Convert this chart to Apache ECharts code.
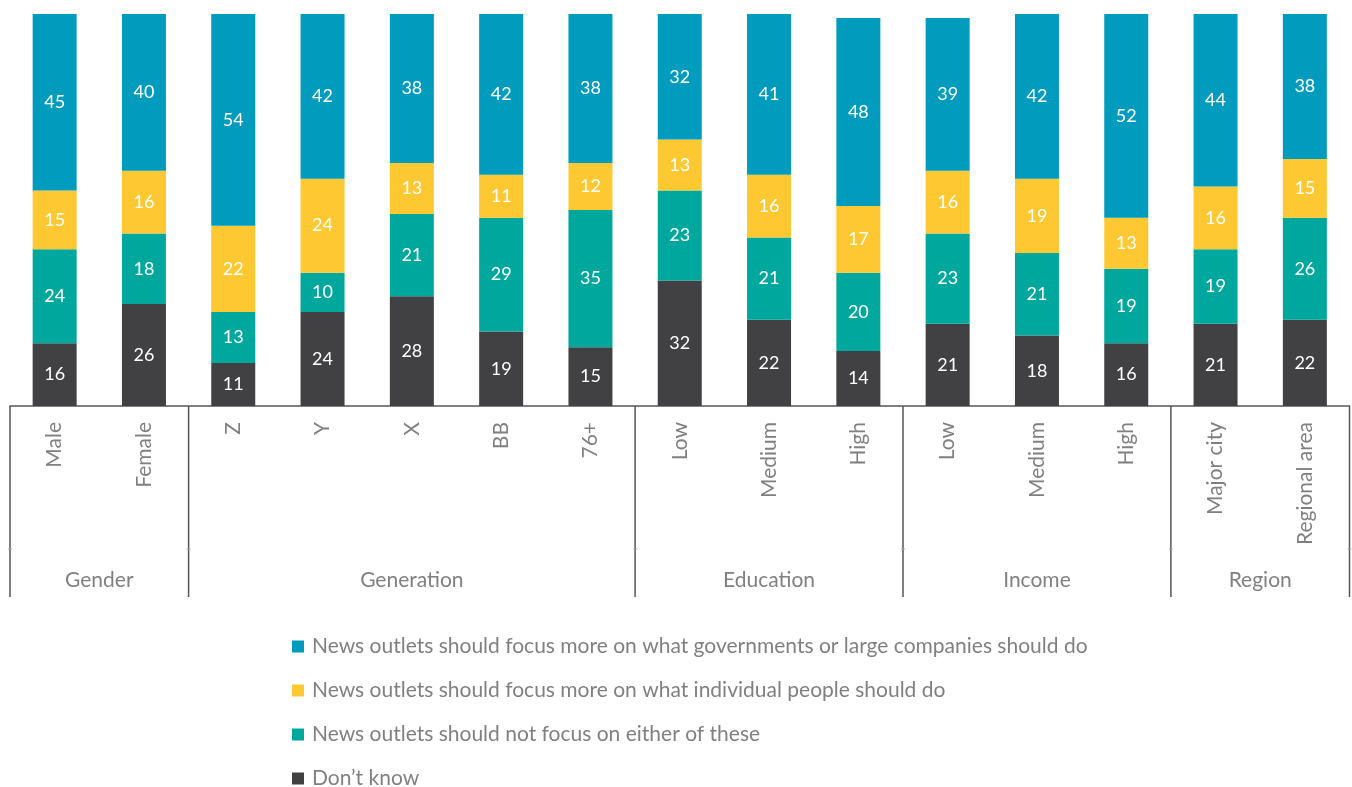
<!DOCTYPE html>
<html>
<head>
<meta charset="utf-8">
<script src="https://cdn.jsdelivr.net/npm/echarts@6/dist/echarts.min.js"></script>
<style>
  html, body { margin: 0; padding: 0; background: #fff; }
  #chart { width: 1352px; height: 787px; }
</style>
</head>
<body>
<div id="chart"></div>
<script>
// Sub-group labels along the x axis
const categories = ['Male', 'Female', 'Z', 'Y', 'X', 'BB', '76+', 'Low', 'Medium', 'High', 'Low', 'Medium', 'High', 'Major city', 'Regional area'];

// Groups: name and how many sub-groups each spans
const groupNames = ['Gender', 'Generation', 'Education', 'Income', 'Region'];
const groupSizes = [2, 5, 3, 3, 2];

// Share of respondents (%) per answer
const dontKnow   = [16, 26, 11, 24, 28, 19, 15, 32, 22, 14, 21, 18, 16, 21, 22];
const neither    = [24, 18, 13, 10, 21, 29, 35, 23, 21, 20, 23, 21, 19, 19, 26];
const individual = [15, 16, 22, 24, 13, 11, 12, 13, 16, 17, 16, 19, 13, 16, 15];
const government = [45, 40, 54, 42, 38, 42, 38, 32, 41, 48, 39, 42, 52, 44, 38];

const seriesNames = [
  'News outlets should focus more on what governments or large companies should do',
  'News outlets should focus more on what individual people should do',
  'News outlets should not focus on either of these',
  'Don\u2019t know'
];

const FONT = 'Lato, "Open Sans", sans-serif';
const GREY = '#808080';
const LINE = '#555555';

const colors = {
  government: '#009bbd',
  individual: '#fdc832',
  neither: '#00a79c',
  dontKnow: '#414042'
};

function barSeries(name, data, color) {
  return {
    name: name,
    type: 'bar',
    stack: 'total',
    data: data,
    barWidth: 44,
    itemStyle: { color: color },
    label: {
      show: true,
      position: 'inside',
      color: '#ffffff',
      fontFamily: FONT,
      fontSize: 18
    },
    emphasis: { disabled: true }
  };
}

const chart = echarts.init(document.getElementById('chart'), null, { renderer: 'canvas' });

chart.setOption({
  animation: false,
  grid: { left: 10, right: 2.5, top: 14, bottom: 381, containLabel: false },
  xAxis: {
    type: 'category',
    data: categories,
    axisLine: { show: true, lineStyle: { color: LINE, width: 1.5 } },
    axisTick: { show: false },
    axisLabel: {
      rotate: 90,
      margin: 16,
      color: GREY,
      fontFamily: FONT,
      fontSize: 21,
      interval: 0
    }
  },
  yAxis: {
    type: 'value',
    min: 0,
    max: 100,
    show: false,
    splitLine: { show: false }
  },
  legend: {
    orient: 'vertical',
    left: 292,
    top: 636,
    height: 170,
    padding: 0,
    itemWidth: 12,
    itemHeight: 12,
    itemGap: 23,
    icon: 'rect',
    data: seriesNames,
    textStyle: { color: GREY, fontFamily: FONT, fontSize: 21, lineHeight: 20, padding: [0, 0, 0, 3] },
    selectedMode: false
  },
  series: [
    barSeries(seriesNames[3], dontKnow, colors.dontKnow),
    barSeries(seriesNames[2], neither, colors.neither),
    barSeries(seriesNames[1], individual, colors.individual),
    barSeries(seriesNames[0], government, colors.government)
  ]
});

// Group separators and group names beneath the category labels
function drawGroups() {
  const axisY = chart.convertToPixel({ yAxisIndex: 0 }, 0);
  const c0 = chart.convertToPixel({ xAxisIndex: 0 }, 0);
  const c1 = chart.convertToPixel({ xAxisIndex: 0 }, 1);
  const step = c1 - c0;
  const left = c0 - step / 2;
  const sepBottom = axisY + 191;
  const stubY = axisY + 143;
  const elements = [];
  let idx = 0;
  const bounds = [left];
  groupSizes.forEach(function (n) { idx += n; bounds.push(left + idx * step); });
  bounds.forEach(function (x) {
    elements.push({
      type: 'line',
      shape: { x1: x, y1: axisY, x2: x, y2: sepBottom },
      style: { stroke: LINE, lineWidth: 1.5 }
    });
    elements.push({
      type: 'line',
      shape: { x1: x - 2, y1: stubY, x2: x + 2, y2: stubY },
      style: { stroke: '#aaaaaa', lineWidth: 1 }
    });
  });
  groupNames.forEach(function (name, i) {
    elements.push({
      type: 'text',
      x: (bounds[i] + bounds[i + 1]) / 2,
      y: axisY + 174,
      style: {
        text: name,
        fill: GREY,
        font: '21px ' + FONT,
        textAlign: 'center',
        textVerticalAlign: 'middle'
      }
    });
  });
  chart.setOption({ graphic: { elements: elements } });
}
drawGroups();
</script>
</body>
</html>
